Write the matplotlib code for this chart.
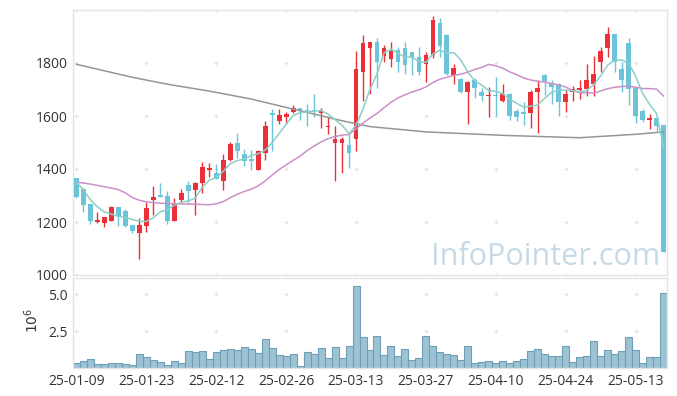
#Candlestick chart with moving averages and volume panel
import numpy
import pandas
import matplotlib
matplotlib.use("Agg")
import matplotlib.pyplot as plt

#Trading days (Korean market holidays removed)
holidays = ["2025-01-27", "2025-01-28", "2025-01-29", "2025-01-30",
            "2025-03-03", "2025-05-01", "2025-05-05", "2025-05-06"]
dates = pandas.bdate_range("2025-01-09", "2025-05-19", freq="C", holidays=holidays)

#OHLC values
opens = [1365, 1325, 1267, 1200, 1196, 1204, 1256, 1241, 1187, 1158,
         1185, 1283, 1303, 1298, 1204, 1283, 1340, 1320, 1347, 1395,
         1386, 1353, 1433, 1497, 1458, 1435, 1397, 1461, 1612, 1582,
         1595, 1614, 1629, 1621, 1622, 1612, 1558, 1499, 1499, 1489,
         1512, 1766, 1858, 1878, 1827, 1815, 1849, 1855, 1840, 1824,
         1798, 1832, 1951, 1906, 1753, 1741, 1690, 1734, 1690, 1675,
         1680, 1658, 1684, 1619, 1614, 1611, 1690, 1756, 1726, 1722,
         1652, 1690, 1700, 1703, 1722, 1802, 1855, 1909, 1776, 1874,
         1707, 1619, 1585, 1593, 1565]
highs = [1367, 1327, 1268, 1236, 1220, 1260, 1258, 1250, 1188, 1215,
         1276, 1336, 1347, 1318, 1292, 1325, 1353, 1352, 1425, 1424,
         1418, 1455, 1501, 1535, 1474, 1471, 1470, 1582, 1626, 1626,
         1616, 1641, 1632, 1645, 1684, 1629, 1598, 1563, 1520, 1537,
         1846, 1906, 1880, 1896, 1868, 1881, 1862, 1881, 1842, 1862,
         1843, 1976, 1970, 1908, 1798, 1745, 1733, 1744, 1705, 1709,
         1747, 1722, 1688, 1625, 1652, 1700, 1734, 1760, 1734, 1724,
         1703, 1713, 1734, 1798, 1827, 1862, 1934, 1910, 1805, 1896,
         1708, 1625, 1607, 1595, 1567]
lows = [1289, 1238, 1194, 1196, 1181, 1203, 1186, 1182, 1160, 1060,
        1161, 1226, 1293, 1191, 1203, 1270, 1270, 1226, 1308, 1371,
        1362, 1321, 1430, 1442, 1413, 1397, 1395, 1435, 1467, 1569,
        1569, 1610, 1585, 1563, 1595, 1556, 1531, 1356, 1385, 1404,
        1467, 1658, 1684, 1705, 1805, 1785, 1766, 1760, 1753, 1756,
        1728, 1817, 1823, 1755, 1722, 1688, 1569, 1667, 1658, 1595,
        1600, 1652, 1585, 1582, 1565, 1553, 1537, 1680, 1645, 1601,
        1616, 1658, 1665, 1675, 1675, 1766, 1824, 1766, 1690, 1642,
        1573, 1578, 1550, 1544, 1085]
closes = [1295, 1266, 1202, 1207, 1218, 1256, 1222, 1184, 1165, 1187,
          1252, 1294, 1295, 1203, 1271, 1310, 1318, 1349, 1408, 1402,
          1363, 1434, 1493, 1467, 1429, 1432, 1467, 1563, 1605, 1603,
          1608, 1629, 1618, 1617, 1619, 1620, 1562, 1512, 1512, 1461,
          1776, 1874, 1878, 1805, 1858, 1845, 1805, 1792, 1817, 1766,
          1832, 1961, 1866, 1757, 1782, 1690, 1730, 1705, 1675, 1680,
          1675, 1684, 1601, 1598, 1609, 1692, 1707, 1731, 1708, 1652,
          1684, 1703, 1707, 1737, 1760, 1846, 1909, 1805, 1737, 1703,
          1601, 1585, 1593, 1563, 1085]

#Volume in millions of shares
volume_m = [0.34, 0.50, 0.61, 0.29, 0.29, 0.36, 0.36, 0.29, 0.22, 0.97,
            0.77, 0.57, 0.41, 0.22, 0.50, 0.36, 1.16, 1.11, 1.16, 0.63,
            1.09, 1.23, 1.30, 1.23, 1.43, 1.30, 1.02, 1.98, 1.36, 0.89,
            0.82, 0.95, 0.16, 1.09, 0.95, 1.36, 0.68, 1.43, 0.68, 1.50,
            5.56, 2.11, 1.23, 2.18, 0.89, 1.50, 0.82, 1.30, 0.55, 0.68,
            2.18, 1.50, 1.09, 0.95, 0.89, 0.55, 1.50, 0.34, 0.41, 0.48,
            0.34, 0.48, 0.34, 0.48, 0.61, 1.16, 1.30, 0.95, 0.82, 0.82,
            1.50, 0.41, 0.75, 0.82, 1.84, 0.82, 1.23, 0.95, 1.16, 2.11,
            1.23, 0.34, 0.75, 0.75, 5.11]

#Moving average values before enough closes exist
ma5_head = [1350, 1321, 1283, 1257]
ma20_head = [1350, 1347, 1343, 1338, 1333, 1328, 1322, 1310, 1292, 1282,
             1276, 1273, 1271, 1270, 1269, 1268, 1268, 1267, 1266]

#Long moving average (120 day) at some bars
ma120_idx = [0, 8, 13, 19, 25, 28, 32, 38, 42, 50, 61, 72, 80, 84]
ma120_val = [1795, 1746, 1720, 1694, 1664, 1645, 1620, 1582, 1560, 1540, 1527, 1518, 1531, 1540]

#Build dataframe
df = pandas.DataFrame({"open": opens, "high": highs, "low": lows,
                       "close": closes, "volume": volume_m}, index=dates)
x = numpy.arange(len(df))

ma5 = df["close"].rolling(5).mean().values
ma5[:4] = ma5_head
ma20 = df["close"].rolling(20).mean().values
ma20[:19] = ma20_head

#Colors
up_color = "#ec3038"
down_color = "#6cc4da"
grid_color = "#e2e2e2"
frame_color = "#e4e4e4"
text_color = "#333333"

plt.rcParams["font.family"] = ["Open Sans", "DejaVu Sans"]

fig = plt.figure(figsize=(6.77, 3.96), dpi=100)
ax = fig.add_axes([73/677, 1-275/396, 594/677, 265/396])
axv = fig.add_axes([73/677, 1-368/396, 594/677, 90/396], sharex=ax)

#Candles
up = df["close"] >= df["open"]
colors = numpy.where(up, up_color, down_color)
body_bottom = numpy.minimum(df["open"], df["close"])
body_height = numpy.maximum(numpy.abs(df["close"] - df["open"]), 5)
ax.vlines(x, df["low"], df["high"], colors=colors, linewidth=1.0, zorder=2)
ax.bar(x, body_height, bottom=body_bottom, width=0.68, color=colors, zorder=3)

#Moving averages
ax.plot(ma120_idx, ma120_val, color="#969696", linewidth=1.1, zorder=4)
ax.plot(x, ma20, color="#cc90c8", linewidth=1.1, zorder=4)
ax.plot(x, ma5, color="#8ccfc8", linewidth=1.1, zorder=4)

#Volume bars
axv.bar(x, df["volume"], width=1.0, color="#9cc2d3", edgecolor="#6f9fb6", linewidth=0.8)

#Axes limits and ticks
ax.set_xlim(-0.5, len(df) - 0.5)
ax.set_ylim(1000, 2000)
ax.set_yticks([1000, 1200, 1400, 1600, 1800])
axv.set_ylim(0, max(volume_m) * 1.1)
axv.set_yticks([2.5, 5.0])
axv.set_yticklabels(["2.5", "5.0"])

tick_pos = list(range(0, len(df), 10))
axv.set_xticks(tick_pos)
axv.set_xticklabels([dates[i].strftime("%y-%m-%d") for i in tick_pos])
plt.setp(ax.get_xticklabels(), visible=False)

for a in (ax, axv):
    a.tick_params(length=0, labelsize=10, colors=text_color, pad=4)
    for s in a.spines.values():
        s.set_color(frame_color)
        s.set_linewidth(1.0)

#Grid drawn as small plus marks
gx, gy = numpy.meshgrid(tick_pos, [1000, 1200, 1400, 1600, 1800, 2000])
ax.scatter(gx.ravel(), gy.ravel(), marker="+", s=12, color=grid_color, linewidths=0.8, zorder=1)
gx, gy = numpy.meshgrid(tick_pos, [2.5, 5.0])
axv.scatter(gx.ravel(), gy.ravel(), marker="+", s=12, color=grid_color, linewidths=0.8, zorder=0)

#Volume scale label
fig.text(33/677, 1-320/396, "$10^6$", rotation=90, fontsize=10, color=text_color,
         ha="center", va="center")

#Watermark
fig.text(660/677, 1-257/396, "InfoPointer.com", fontsize=22, color="#c6dae6",
         ha="right", va="center", zorder=0)

fig.savefig("out.png", dpi=100)
